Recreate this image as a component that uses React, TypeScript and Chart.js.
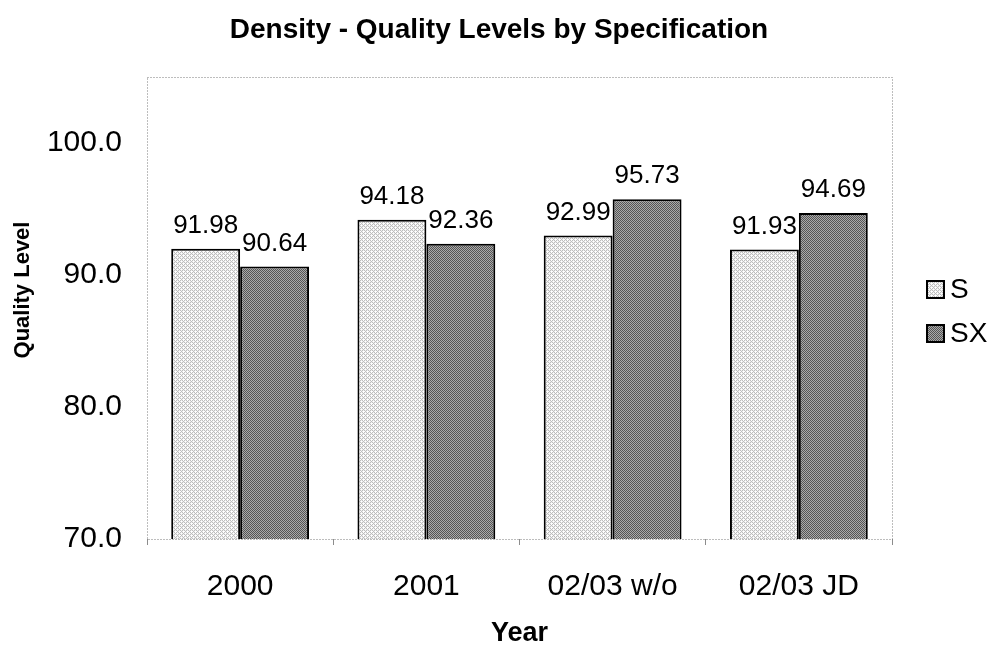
import React, { useEffect, useRef } from "react";
import { Chart, registerables } from "chart.js";

Chart.register(...registerables);

const categories = ["2000", "2001", "02/03 w/o", "02/03 JD"];
const seriesNames = ["S", "SX"];
const valuesS = [91.98, 94.18, 92.99, 91.93];
const valuesSX = [90.64, 92.36, 95.73, 94.69];
const yTicks = [70, 80, 90, 100];

const chartTitle = "Density - Quality Levels by Specification";
const xTitle = "Year";
const yTitle = "Quality Level";

const FONT = "'Liberation Sans', Arial, Helvetica, sans-serif";

function makePattern(base: string, dots: string[][]): CanvasPattern | string {
  const c = document.createElement("canvas");
  const n = dots.length;
  c.width = n;
  c.height = n;
  const ctx = c.getContext("2d");
  if (!ctx) return base;
  ctx.fillStyle = base;
  ctx.fillRect(0, 0, n, n);
  for (let y = 0; y < n; y++) {
    for (let x = 0; x < n; x++) {
      const col = dots[y][x];
      if (col) {
        ctx.fillStyle = col;
        ctx.fillRect(x, y, 1, 1);
      }
    }
  }
  const p = ctx.createPattern(c, "repeat");
  return p || base;
}

export default function App() {
  const ref = useRef<HTMLCanvasElement | null>(null);

  useEffect(() => {
    document.body.style.margin = "0";
    const canvas = ref.current;
    if (!canvas) return;

    const L = "#eeeeee";
    const M = "#bdbdbd";
    const W = "#ffffff";
    const patS = makePattern("#d6d6d6", [
      [M, L, M, W],
      [L, W, L, M],
      [M, L, M, L],
      [W, M, L, W],
    ]);
    const D = "#555555";
    const G = "#aaaaaa";
    const patSX = makePattern("#808080", [
      [D, G, D, G],
      [G, D, G, D],
      [D, G, D, G],
      [G, D, G, D],
    ]);
    const fills = [patS, patSX];

    const overlay = {
      id: "overlay",
      beforeDatasetsDraw(chart: any) {
        const { ctx, chartArea } = chart;
        ctx.save();
        ctx.strokeStyle = "#7a7a7a";
        ctx.lineWidth = 1;
        ctx.setLineDash([1, 2]);
        ctx.strokeRect(
          Math.round(chartArea.left) + 0.5,
          Math.round(chartArea.top) + 0.5,
          Math.round(chartArea.right - chartArea.left),
          Math.round(chartArea.bottom - chartArea.top)
        );
        ctx.restore();
      },
      afterDatasetsDraw(chart: any) {
        const { ctx, chartArea } = chart;
        ctx.save();
        // data labels
        ctx.fillStyle = "#000";
        ctx.font = `26px ${FONT}`;
        ctx.textAlign = "center";
        ctx.textBaseline = "alphabetic";
        chart.data.datasets.forEach((ds: any, di: number) => {
          const meta = chart.getDatasetMeta(di);
          meta.data.forEach((el: any, i: number) => {
            ctx.fillText(Number(ds.data[i]).toFixed(2), el.x, el.y - 16);
          });
        });
        // title
        ctx.font = `bold 28px ${FONT}`;
        ctx.textBaseline = "middle";
        ctx.fillText(chartTitle, 499, 30);
        // x title
        ctx.font = `bold 27px ${FONT}`;
        ctx.fillText(xTitle, (chartArea.left + chartArea.right) / 2, 634);
        // y title
        ctx.save();
        ctx.translate(23, 290);
        ctx.rotate(-Math.PI / 2);
        ctx.font = `bold 22px ${FONT}`;
        ctx.fillText(yTitle, 0, 0);
        ctx.restore();
        // legend
        ctx.font = `28px ${FONT}`;
        ctx.textAlign = "left";
        const rows = [289, 333];
        seriesNames.forEach((name, i) => {
          const y = rows[i];
          ctx.fillStyle = fills[i] as any;
          ctx.fillRect(927, y - 8, 17, 17);
          ctx.strokeStyle = "#000";
          ctx.lineWidth = 2;
          ctx.setLineDash([]);
          ctx.strokeRect(927, y - 8, 17, 17);
          ctx.fillStyle = "#000";
          ctx.fillText(name, 950, y + 1);
        });
        ctx.restore();
      },
    };

    const chart = new Chart(canvas, {
      type: "bar",
      data: {
        labels: categories,
        datasets: [
          {
            label: seriesNames[0],
            data: valuesS,
            backgroundColor: patS as any,
            borderColor: "#000",
            borderWidth: 2,
            borderSkipped: false,
            barPercentage: 1.0,
            categoryPercentage: 0.74,
          },
          {
            label: seriesNames[1],
            data: valuesSX,
            backgroundColor: patSX as any,
            borderColor: "#000",
            borderWidth: 2,
            borderSkipped: false,
            barPercentage: 1.0,
            categoryPercentage: 0.74,
          },
        ],
      },
      options: {
        responsive: false,
        maintainAspectRatio: false,
        animation: false,
        layout: { padding: { left: 0, right: 109, top: 77, bottom: 0 } },
        plugins: {
          legend: { display: false },
          title: { display: false },
          tooltip: { enabled: false },
        },
        scales: {
          x: {
            grid: {
              display: true,
              drawOnChartArea: false,
              drawTicks: true,
              tickLength: 6,
              color: "#8c8c8c",
              offset: true,
            },
            border: { display: false },
            ticks: {
              color: "#000",
              font: { family: FONT, size: 30 },
              padding: 24,
              maxRotation: 0,
            },
            afterFit: (scale: any) => {
              scale.height = 112;
            },
          },
          y: {
            min: 70,
            max: 105,
            grid: { display: false, drawTicks: false, tickLength: 0 },
            border: { display: false },
            afterBuildTicks: (scale: any) => {
              scale.ticks = yTicks.map((v) => ({ value: v }));
            },
            ticks: {
              color: "#000",
              font: { family: FONT, size: 30 },
              padding: 25,
              callback: (v: any) => Number(v).toFixed(1),
            },
            afterFit: (scale: any) => {
              scale.width = 147;
            },
          },
        },
      },
      plugins: [overlay],
    });

    return () => chart.destroy();
  }, []);

  return (
    <div style={{ position: "absolute", left: 0, top: 0, width: 1001, height: 651, background: "#fff" }}>
      <canvas ref={ref} width={1001} height={651} />
    </div>
  );
}
